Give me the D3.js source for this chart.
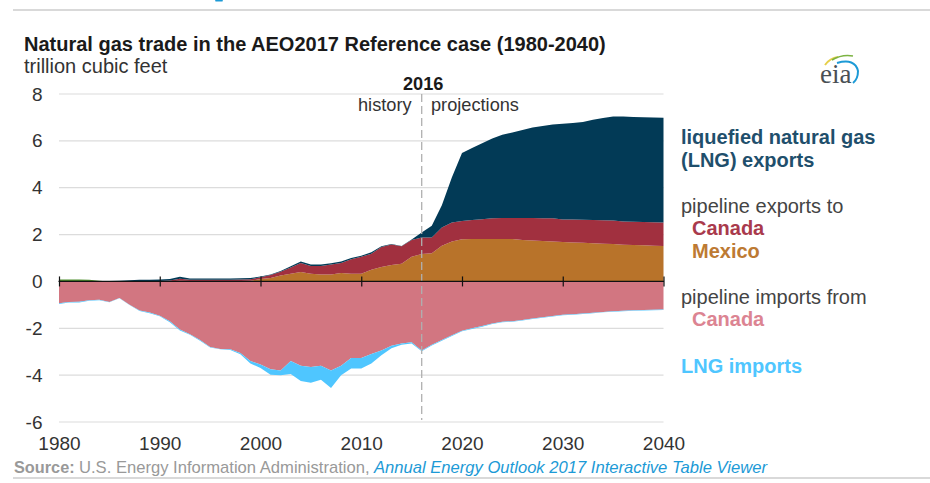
<!DOCTYPE html>
<html>
<head>
<meta charset="utf-8">
<script src="https://cdn.jsdelivr.net/npm/d3@7"></script>
<style>
    html, body { margin: 0; padding: 0; background: #fff; }
    text { font-family: "Liberation Sans", Arial, sans-serif; }
</style>
</head>
<body>
<script>
var years = d3.range(1980, 2041);
var xTicks = [1980, 1990, 2000, 2010, 2020, 2030, 2040];
var yTicks = [8, 6, 4, 2, 0, -2, -4, -6];

// trillion cubic feet, one value per year 1980-2040
var otherExports = [0.08, 0.08, 0.08, 0.07, 0.03, 0, 0, 0, 0, 0, 0,
    0, 0, 0, 0, 0, 0, 0, 0, 0, 0,
    0, 0, 0, 0, 0, 0, 0, 0, 0, 0,
    0, 0, 0, 0, 0, 0, 0, 0, 0, 0,
    0, 0, 0, 0, 0, 0, 0, 0, 0, 0,
    0, 0, 0, 0, 0, 0, 0, 0, 0, 0];
var mexicoExports = [0, 0, 0, 0, 0, 0, 0, 0, 0, 0, 0,
    0.01, 0.03, 0.02, 0.02, 0.02, 0.02, 0.02, 0.02, 0.03, 0.1,
    0.15, 0.25, 0.33, 0.4, 0.33, 0.3, 0.3, 0.36, 0.33, 0.33,
    0.5, 0.62, 0.7, 0.75, 1.05, 1.17, 1.2, 1.52, 1.7, 1.8,
    1.81, 1.81, 1.81, 1.81, 1.81, 1.77, 1.75, 1.73, 1.7, 1.68,
    1.66, 1.65, 1.63, 1.61, 1.6, 1.57, 1.55, 1.54, 1.52, 1.51];
var canadaExports = [0, 0, 0, 0, 0, 0, 0, 0, 0, 0.01, 0.02,
    0.03, 0.08, 0.05, 0.05, 0.05, 0.05, 0.05, 0.06, 0.06, 0.08,
    0.12, 0.16, 0.26, 0.39, 0.33, 0.36, 0.42, 0.43, 0.62, 0.72,
    0.68, 0.85, 0.88, 0.75, 0.72, 0.71, 0.68, 0.78, 0.82, 0.78,
    0.81, 0.84, 0.89, 0.9, 0.9, 0.94, 0.96, 0.97, 1.0, 0.96,
    0.98, 0.98, 0.99, 1.0, 1.0, 0.99, 1.0, 1.0, 1.01, 1.01];
var lngExports = [0, 0, 0, 0, 0, 0.02, 0.03, 0.05, 0.07, 0.06, 0.06,
    0.06, 0.09, 0.06, 0.06, 0.06, 0.06, 0.06, 0.06, 0.06, 0.03,
    0.03, 0.04, 0.06, 0.06, 0.06, 0.06, 0.06, 0.06, 0.05, 0.05,
    0.07, 0.03, 0.02, 0.01, 0.02, 0.21, 0.5, 0.95, 1.93, 2.9,
    3.08, 3.25, 3.4, 3.55, 3.65, 3.75, 3.86, 3.93, 4.0, 4.09,
    4.12, 4.18, 4.28, 4.37, 4.44, 4.48, 4.47, 4.47, 4.47, 4.47];
var canadaImports = [-0.93, -0.88, -0.87, -0.8, -0.78, -0.88, -0.71, -1.0, -1.24, -1.33, -1.46,
    -1.7, -2.05, -2.25, -2.5, -2.8, -2.88, -2.9, -3.05, -3.4, -3.55,
    -3.75, -3.8, -3.4, -3.6, -3.65, -3.6, -3.8, -3.6, -3.27, -3.27,
    -3.1, -2.95, -2.75, -2.65, -2.6, -2.95, -2.7, -2.5, -2.3, -2.1,
    -2.0, -1.9, -1.8, -1.72, -1.7, -1.65, -1.58, -1.53, -1.48, -1.42,
    -1.4, -1.37, -1.34, -1.3, -1.27, -1.25, -1.23, -1.22, -1.21, -1.2];
var lngImports = [-0.03, -0.02, -0.03, -0.03, -0.02, -0.01, -0.01, -0.01, -0.02, -0.03, -0.03,
    -0.04, -0.04, -0.03, -0.03, -0.02, -0.02, -0.03, -0.06, -0.1, -0.15,
    -0.23, -0.2, -0.55, -0.65, -0.68, -0.6, -0.75, -0.4, -0.45, -0.45,
    -0.4, -0.2, -0.1, -0.05, -0.05, -0.03, -0.03, -0.03, -0.03, -0.03,
    -0.03, -0.03, -0.02, -0.02, -0.02, -0.02, -0.02, -0.02, -0.02, -0.02,
    -0.02, -0.02, -0.02, -0.02, -0.02, -0.02, -0.02, -0.02, -0.02, -0.02];

var seriesNames = ["other", "mexico", "canadaOut", "lngOut", "canadaIn", "lngIn"];
var seriesValues = [otherExports, mexicoExports, canadaExports, lngExports, canadaImports, lngImports];
var seriesColors = ["#4f8f2f", "#b8732a", "#a1303f", "#023a56", "#d27681", "#4fc6ff"];

var width = 930, height = 483;

var svg = d3.select("body").append("svg")
    .attr("width", width)
    .attr("height", height)
    .style("display", "block");

var x = d3.scaleLinear().domain([1980, 2040]).range([59, 663.5]);
var y = d3.scaleLinear().domain([8, -6]).range([94, 422]);

// page rules
svg.append("rect").attr("x", 13).attr("y", 9).attr("width", 917).attr("height", 2).attr("fill", "#d9d9d9");
svg.append("rect").attr("x", 13).attr("y", 477).attr("width", 917).attr("height", 2).attr("fill", "#d9d9d9");
svg.append("rect").attr("x", 215).attr("y", 0).attr("width", 8).attr("height", 1.5).attr("rx", 1).attr("fill", "#1c9ad6");

// gridlines
svg.append("g").selectAll("line")
    .data(yTicks.filter(function (d) { return d !== 0; }))
    .enter().append("line")
    .attr("x1", x(1980))
    .attr("x2", x(2040))
    .attr("y1", function (d) { return y(d); })
    .attr("y2", function (d) { return y(d); })
    .attr("stroke", "#dcdcdc")
    .attr("stroke-width", 1.2);

// stacked areas, d3 keeps positive and negative values on their own side of zero
var rows = years.map(function (yr, i) {
    var row = { year: yr };
    seriesNames.forEach(function (n, s) { row[n] = seriesValues[s][i]; });
    return row;
});
var stacked = d3.stack()
    .keys(seriesNames)
    .offset(d3.stackOffsetDiverging)(rows);

var area = d3.area()
    .x(function (d) { return x(d.data.year); })
    .y0(function (d) { return y(d[0]); })
    .y1(function (d) { return y(d[1]); });

svg.append("g").selectAll("path")
    .data(stacked)
    .enter().append("path")
    .attr("d", area)
    .attr("fill", function (d, i) { return seriesColors[i]; });

// 2016 divider
svg.append("line")
    .attr("x1", x(2016))
    .attr("x2", x(2016))
    .attr("y1", y(8))
    .attr("y2", 420)
    .attr("stroke", "#b0b0b0")
    .attr("stroke-width", 1.3)
    .attr("stroke-dasharray", "8,4");

// zero axis with ticks across it
var zeroAxis = svg.append("g")
    .attr("transform", "translate(0," + y(0) + ")")
    .call(d3.axisBottom(x).tickValues(xTicks).tickSize(5).tickFormat(""));
zeroAxis.select(".domain").remove();
zeroAxis.selectAll("line").attr("y1", -5).attr("stroke", "#111").attr("stroke-width", 1.2);
svg.append("line")
    .attr("x1", x(1980) - 0.5).attr("x2", x(2040) + 0.5)
    .attr("y1", y(0)).attr("y2", y(0))
    .attr("stroke", "#111").attr("stroke-width", 1.3);

// axis labels
var xAxis = svg.append("g")
    .attr("transform", "translate(0,433)")
    .call(d3.axisBottom(x).tickValues(xTicks).tickSize(0).tickPadding(4).tickFormat(d3.format("d")));
xAxis.select(".domain").remove();
xAxis.selectAll("text").style("font-size", "19px").attr("fill", "#333");

var yAxis = svg.append("g")
    .attr("transform", "translate(42.5,0)")
    .call(d3.axisLeft(y).tickValues(yTicks).tickSize(0).tickPadding(0)
        .tickFormat(function (d) { return String(d); }));
yAxis.select(".domain").remove();
yAxis.selectAll("text").style("font-size", "19px").attr("fill", "#333");

function label(txt, px, py, size, weight, color) {
    return svg.append("text")
        .attr("x", px).attr("y", py)
        .style("font-size", size + "px")
        .style("font-weight", weight)
        .attr("fill", color)
        .text(txt);
}

label("Natural gas trade in the AEO2017 Reference case (1980-2040)", 24, 51, 20, "bold", "#1a1a1a");
label("trillion cubic feet", 24, 73, 20, "normal", "#333");
label("2016", 403, 90, 18.2, "bold", "#1a1a1a");
label("history", 358, 111, 18.2, "normal", "#333");
label("projections", 431, 111, 18.2, "normal", "#333");

label("liquefied natural gas", 681, 144, 20, "bold", "#1f4f6c");
label("(LNG) exports", 681, 167, 20, "bold", "#1f4f6c");
label("pipeline exports to", 681, 213, 20, "normal", "#444");
label("Canada", 692, 235, 20, "bold", "#a93a4c");
label("Mexico", 692, 258, 20, "bold", "#bd7a33");
label("pipeline imports from", 681, 304, 20, "normal", "#444");
label("Canada", 692, 326, 20, "bold", "#dc8492");
label("LNG imports", 681, 373, 20, "bold", "#4fc6ff");

label("Source:", 14, 473, 16.3, "bold", "#999");
label("U.S. Energy Information Administration,", 79, 473, 16.6, "normal", "#999");
label("Annual Energy Outlook 2017 Interactive Table Viewer", 374, 473, 16.6, "normal", "#1c9ad6")
    .style("font-style", "italic");

// eia logo
var logo = svg.append("g");
logo.append("path").attr("d", "M825 65 Q830 58 838 57").attr("fill", "none").attr("stroke", "#e6cf4a").attr("stroke-width", 2);
logo.append("path").attr("d", "M832 60 Q842 54 853 56").attr("fill", "none").attr("stroke", "#7cb342").attr("stroke-width", 1.6);
logo.append("path").attr("d", "M837 63 Q855 58 858 71 Q858 79 853 83").attr("fill", "none").attr("stroke", "#1c9ad6").attr("stroke-width", 2);
label("eia", 820, 83, 27, "normal", "#4a4f54").style("font-family", "'Liberation Serif', serif");
</script>
</body>
</html>
